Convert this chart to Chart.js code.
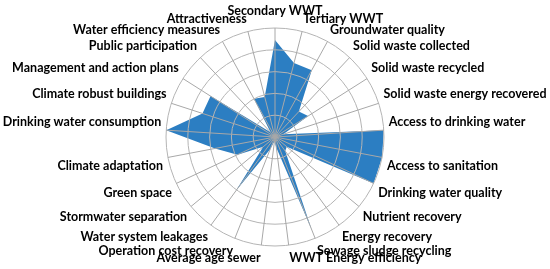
<!DOCTYPE html>
<html>
<head>
<meta charset="utf-8">
<script src="https://cdn.jsdelivr.net/npm/chart.js@4"></script>
<style>
  body { margin: 0; background: #ffffff; }
  #wrap { width: 550px; height: 269px; }
</style>
</head>
<body>
<div id="wrap"><canvas id="radar" width="550" height="269"></canvas></div>
<script>
// indicators, clockwise from the top
var indicators = [
    "Secondary WWT", "Tertiary WWT", "Groundwater quality", "Solid waste collected",
    "Solid waste recycled", "Solid waste energy recovered", "Access to drinking water",
    "Access to sanitation", "Drinking water quality", "Nutrient recovery", "Energy recovery",
    "Sewage sludge recycling", "WWT Energy efficiency", "Average age sewer",
    "Operation cost recovery", "Water system leakages", "Stormwater separation",
    "Green space", "Climate adaptation", "Drinking water consumption",
    "Climate robust buildings", "Management and action plans", "Public participation",
    "Water efficiency measures", "Attractiveness"
];

// scores (0 - 5)
var scores = [
    4.45, 3.5, 3.5, 1.6,
    1.8, 0.4, 5,
    5, 5, 0.7, 0.8,
    4.55, 0.5, 0.2,
    0.6, 3.05, 0.7,
    1.9, 2.8, 5,
    3.5, 3.5, 0.3,
    2.0, 1.9
];

var scale_min = 0;
var scale_max = 5;
var scale_step = 1;

var ctx = document.getElementById("radar").getContext("2d");

var data = {
    labels: indicators,
    datasets: [{
        label: "Score",
        data: scores,
        backgroundColor: "rgb(44,126,194)",
        borderColor: "rgb(44,126,194)",
        borderWidth: 0,
        pointRadius: 0,
        fill: true
    }]
};

const config = {
    type: "radar",
    data: data,
    options: {
        responsive: false,
        animation: false,
        // a little negative padding so the web gets the same radius as the original
        layout: { padding: { left: -1, right: -1, top: -1, bottom: -1 } },
        plugins: {
            legend: { display: false },
            tooltip: { enabled: false }
        },
        scales: {
            r: {
                min: scale_min,
                max: scale_max,
                ticks: { display: false, stepSize: scale_step },
                grid: { color: "#b4b4b4", lineWidth: 1, circular: true, z: 1 },
                angleLines: { color: "#a8a8a8", lineWidth: 1 },
                pointLabels: {
                    color: "#000000",
                    padding: function(c) { return c.index === 0 ? 10 : 5; },
                    font: { family: "Lato", weight: "bold", size: 12.5 }
                }
            }
        }
    }
};

var chart = new Chart(ctx, config);
</script>
</body>
</html>
